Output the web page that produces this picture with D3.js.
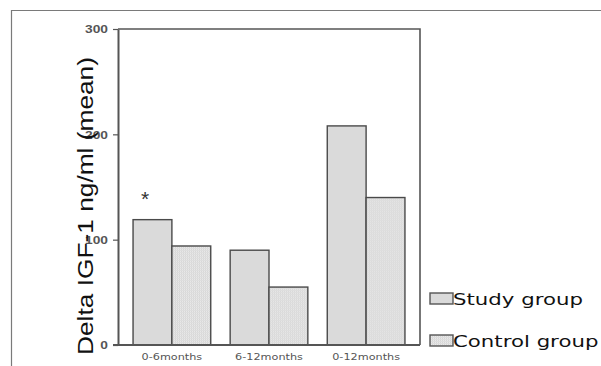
<!DOCTYPE html>
<html>
<head>
<meta charset="utf-8">
<script src="https://cdn.jsdelivr.net/npm/d3@7"></script>
<style>
  html, body { margin: 0; padding: 0; background: #fff; }
  svg { display: block; }
</style>
</head>
<body>
<svg id="chart"></svg>
<script>
const categories = ["0-6months", "6-12months", "0-12months"];
const seriesNames = ["Study group", "Control group"];
const studyValues = [119, 90, 208];
const controlValues = [94, 55, 140];
const yTicks = [0, 100, 200, 300];
const yTitle = "Delta IGF-1 ng/ml (mean)";
const starMark = "*";

const width = 601;
const height = 366;
const plotLeft = 118;
const plotRight = 420;
const plotTop = 29;
const plotBottom = 345;

const data = categories.map((c, i) => ({
  cat: c,
  values: [
    { key: seriesNames[0], value: studyValues[i] },
    { key: seriesNames[1], value: controlValues[i] }
  ]
}));

const svg = d3.select("#chart")
  .attr("width", width)
  .attr("height", height)
  .attr("viewBox", [0, 0, width, height]);

// hatch for control bars
const defs = svg.append("defs");
const pat = defs.append("pattern")
  .attr("id", "grid")
  .attr("width", 2).attr("height", 2)
  .attr("patternUnits", "userSpaceOnUse");
pat.append("rect").attr("width", 2).attr("height", 2).attr("fill", "#e9e9e9");
pat.append("rect").attr("width", 1).attr("height", 2).attr("fill", "#d6d6d6");
pat.append("rect").attr("width", 2).attr("height", 1).attr("fill", "#dedede");

const fills = { "Study group": "#dadada", "Control group": "url(#grid)" };

// outer frame
svg.append("path")
  .attr("d", `M11.5,${height}V10.5H${width}`)
  .attr("fill", "none")
  .attr("stroke", "#7a7a7a")
  .attr("stroke-width", 1.2);

// scales
const x0 = d3.scaleBand(categories, [plotLeft, plotRight])
  .paddingInner(0.2)
  .paddingOuter(0.155);
const x1 = d3.scaleBand(seriesNames, [0, x0.bandwidth()]);
const y = d3.scaleLinear([0, 300], [plotBottom, plotTop]);

// bars
const groups = svg.append("g")
  .selectAll("g")
  .data(data)
  .join("g")
  .attr("transform", d => `translate(${x0(d.cat)},0)`);

groups.selectAll("rect")
  .data(d => d.values)
  .join("rect")
  .attr("x", d => x1(d.key))
  .attr("y", d => y(d.value))
  .attr("width", x1.bandwidth())
  .attr("height", d => y(0) - y(d.value))
  .attr("fill", d => fills[d.key])
  .attr("stroke", "#4a4a4a")
  .attr("stroke-width", 1.4);

// plot frame (top and right)
svg.append("path")
  .attr("d", `M${plotLeft},${plotTop}H${plotRight}V${plotBottom}`)
  .attr("fill", "none")
  .attr("stroke", "#555")
  .attr("stroke-width", 1.6);

// y axis
const yAxis = svg.append("g")
  .attr("transform", `translate(${plotLeft},0)`)
  .call(d3.axisLeft(y).tickValues(yTicks).tickSize(5).tickSizeOuter(0).tickPadding(5));
yAxis.select(".domain").attr("stroke", "#555").attr("stroke-width", 2);
yAxis.selectAll(".tick line").attr("stroke", "#555").attr("stroke-width", 1.2);
yAxis.selectAll(".tick text")
  .attr("fill", "#555")
  .attr("font-family", "Liberation Sans, Arial, sans-serif")
  .attr("font-weight", "bold")
  .attr("font-size", 11)
  .attr("x", 0)
  .attr("dy", "0.36em")
  .attr("transform", "translate(-10,0) scale(1.25,1)");

// x axis
const xAxis = svg.append("g")
  .attr("transform", `translate(0,${plotBottom})`)
  .call(d3.axisBottom(x0).tickSize(0).tickSizeOuter(0).tickPadding(8));
xAxis.select(".domain").attr("stroke", "#555").attr("stroke-width", 2)
  .attr("d", `M${plotLeft - 5},0H${plotRight}`);
xAxis.selectAll(".tick text")
  .attr("fill", "#555")
  .attr("font-family", "DejaVu Sans, Verdana, sans-serif")
  .attr("font-size", 9)
  .attr("y", 0)
  .attr("dy", "0")
  .attr("transform", "translate(0,15) scale(1.25,1)");

// y title
svg.append("text")
  .attr("transform", `translate(93,206) rotate(-90)`)
  .attr("text-anchor", "middle")
  .attr("font-family", "Liberation Sans, Arial, sans-serif")
  .attr("font-size", 22)
  .attr("fill", "#111")
  .attr("textLength", 298)
  .attr("lengthAdjust", "spacingAndGlyphs")
  .text(yTitle);

// significance mark
svg.append("text")
  .attr("x", x0(categories[0]) + x1(seriesNames[0]) + 12)
  .attr("y", y(studyValues[0]) - 14)
  .attr("text-anchor", "middle")
  .attr("font-family", "Liberation Sans, Arial, sans-serif")
  .attr("font-size", 21)
  .attr("fill", "#333")
  .text(starMark);

// legend
const legend = svg.append("g")
  .selectAll("g")
  .data(seriesNames)
  .join("g")
  .attr("transform", (d, i) => `translate(430,${293 + i * 42})`);
legend.append("rect")
  .attr("width", 23)
  .attr("height", 11)
  .attr("fill", d => fills[d])
  .attr("stroke", "#555")
  .attr("stroke-width", 1.4);
legend.append("text")
  .attr("transform", "translate(23,12) scale(1.33,1)")
  .attr("font-family", "DejaVu Sans, Verdana, sans-serif")
  .attr("font-size", 16)
  .attr("fill", "#111")
  .text(d => d);
</script>
</body>
</html>
